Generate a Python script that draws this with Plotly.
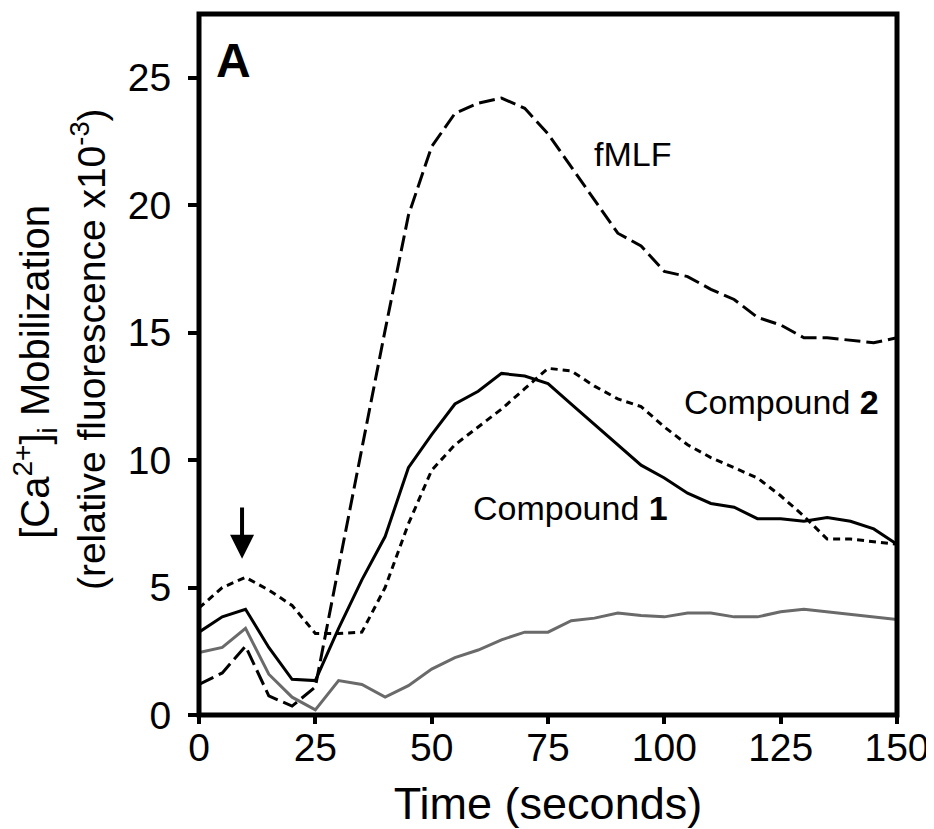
import plotly.graph_objects as go

time_s = [0, 5, 10, 15, 20, 25, 30, 35, 40, 45, 50, 55, 60, 65, 70, 75, 80, 85,
          90, 95, 100, 105, 110, 115, 120, 125, 130, 135, 140, 145, 150]

fmlf = [1.2, 1.65, 2.7, 0.75, 0.35, 1.1, 5.8, 10.5, 15.1, 19.6, 22.3, 23.6, 24.0, 24.2,
        23.8, 22.8, 21.5, 20.2, 18.9, 18.4, 17.4, 17.2, 16.7, 16.3, 15.6, 15.3, 14.8,
        14.8, 14.7, 14.6, 14.8]

compound1 = [3.25, 3.85, 4.15, 2.65, 1.4, 1.35, 3.4, 5.3, 7.0, 9.7, 11.0, 12.2, 12.7, 13.4,
             13.3, 13.0, 12.2, 11.4, 10.6, 9.8, 9.3, 8.7, 8.3, 8.15, 7.7, 7.7, 7.6, 7.75,
             7.6, 7.3, 6.7]

compound2 = [4.2, 5.0, 5.4, 4.9, 4.3, 3.2, 3.2, 3.25, 5.0, 7.5, 9.6, 10.6, 11.3, 12.0,
             12.8, 13.6, 13.5, 12.9, 12.4, 12.1, 11.3, 10.6, 10.1, 9.7, 9.3, 8.6, 7.8,
             6.9, 6.9, 6.8, 6.7]

control = [2.45, 2.65, 3.4, 1.6, 0.7, 0.2, 1.35, 1.2, 0.7, 1.15, 1.8, 2.25, 2.55, 2.95,
           3.25, 3.25, 3.7, 3.8, 4.0, 3.9, 3.85, 4.0, 4.0, 3.85, 3.85, 4.05, 4.15, 4.05,
           3.95, 3.85, 3.75]

x_ticks = [0, 25, 50, 75, 100, 125, 150]
y_ticks = [0, 5, 10, 15, 20, 25]

FONT = "Liberation Sans, Arial, Helvetica, sans-serif"

fig = go.Figure()
fig.add_trace(go.Scatter(x=time_s, y=control, mode="lines",
                         line=dict(color="#6a6a6a", width=3), name="Control"))
fig.add_trace(go.Scatter(x=time_s, y=fmlf, mode="lines",
                         line=dict(color="black", width=3, dash="16px,6px"), name="fMLF"))
fig.add_trace(go.Scatter(x=time_s, y=compound2, mode="lines",
                         line=dict(color="black", width=3, dash="7px,5px"), name="Compound 2"))
fig.add_trace(go.Scatter(x=time_s, y=compound1, mode="lines",
                         line=dict(color="black", width=3), name="Compound 1"))

annots = [
    dict(x=7.5, y=25.66, text="<b>A</b>", font=dict(size=48, color="black", family=FONT)),
    dict(x=93.2, y=22.0, text="fMLF", font=dict(size=34, color="black", family=FONT)),
    dict(x=125.1, y=12.27, text="Compound <b>2</b>", font=dict(size=34, color="black", family=FONT)),
    dict(x=79.8, y=8.13, text="Compound <b>1</b>", font=dict(size=34, color="black", family=FONT)),
]
for a in annots:
    fig.add_annotation(xref="x", yref="y", showarrow=False, xanchor="center", yanchor="middle", **a)

# arrow marking addition
fig.add_annotation(xref="x", yref="y", x=9.25, y=6.13, axref="x", ayref="y", ax=9.25, ay=8.2,
                   text="", showarrow=True, arrowhead=2, arrowwidth=4, arrowsize=1.2,
                   arrowcolor="black", standoff=0, startstandoff=0)

# y-axis title (two rotated lines)
fig.add_annotation(xref="paper", yref="paper", x=-0.236, y=0.49, textangle=-90,
                   text="[Ca<sup>2+</sup>]<sub>i</sub> Mobilization", showarrow=False,
                   xanchor="center", yanchor="middle",
                   font=dict(size=40, color="black", family=FONT))
fig.add_annotation(xref="paper", yref="paper", x=-0.159, y=0.522, textangle=-90,
                   text="(relative fluorescence x10<sup>-3</sup>)", showarrow=False,
                   xanchor="center", yanchor="middle",
                   font=dict(size=39, color="black", family=FONT))

# frame
fig.add_shape(type="rect", xref="paper", yref="paper", x0=0, x1=1, y0=0, y1=1,
              line=dict(color="black", width=5), layer="above")

# page body has an 8px default margin, so the figure is 8px smaller than the window
fig.update_layout(
    width=926, height=821,
    margin=dict(l=191, r=37, t=6, b=114, autoexpand=False),
    paper_bgcolor="white", plot_bgcolor="white",
    showlegend=False,
    font=dict(family=FONT, color="black"),
    xaxis=dict(range=[0, 150], tickvals=x_ticks, ticks="outside", ticklen=8, tickwidth=4,
               tickcolor="black", showgrid=False, zeroline=False, showline=False,
               automargin=False, ticklabelstandoff=-10,
               tickfont=dict(size=39, color="black", family=FONT),
               title=dict(text="Time (seconds)", font=dict(size=45, color="black", family=FONT),
                          standoff=30)),
    yaxis=dict(range=[0, 27.5], tickvals=y_ticks, ticks="outside", ticklen=10, tickwidth=4,
               tickcolor="black", showgrid=False, zeroline=False, showline=False,
               automargin=False,
               tickfont=dict(size=39, color="black", family=FONT), ticklabelstandoff=9),
)

fig.write_html("out.html")
